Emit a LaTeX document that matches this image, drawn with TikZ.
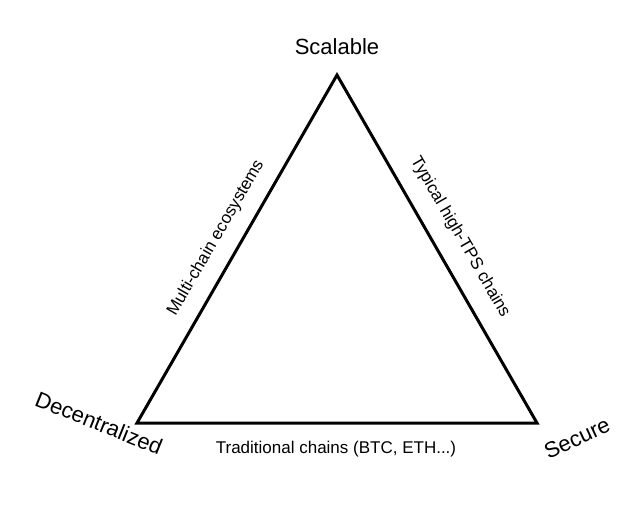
\documentclass[tikz,border=0pt]{standalone}
\usepackage{fontspec}
\setmainfont{Liberation Sans}
\begin{document}
\begin{tikzpicture}[x=1pt,y=-1pt,
  corner/.style={font=\fontsize{22}{26}\selectfont},
  edgelab/.style={font=\fontsize{17}{20}\selectfont}]
\useasboundingbox (0,0) rectangle (644,511);
\coordinate (T) at (337,75);
\coordinate (L) at (137,423);
\coordinate (R) at (537,423);
\draw[line width=3pt, line join=miter] (T) -- (L) -- (R) -- cycle;
\node[corner] (s) at (337,47) {Scalable};
\node[corner, rotate=-22] (d) at (99,423) {Decentralized};
\node[corner, rotate=25] (se) at (577,438) {Secure};
\node[edgelab, rotate=60] (m) at (216,238) {Multi-chain ecosystems};
\node[edgelab, rotate=-60] (t) at (460,237) {Typical high-TPS chains};
\node[edgelab] (b) at (336,449) {Traditional chains (BTC, ETH...)};
\end{tikzpicture}
\end{document}
